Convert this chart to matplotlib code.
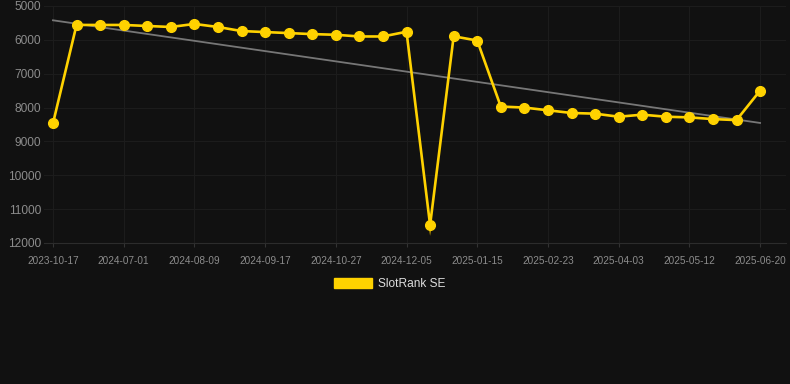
import matplotlib
matplotlib.use('Agg')
import matplotlib.pyplot as plt
import matplotlib.patches as patches
import numpy as np

# ============================================================
# SlotRank SE history (rank, lower is better -> inverted axis)
# ============================================================

dates = ['2023-10-17', '', '', '2024-07-01', '', '', '2024-08-09', '', '',
         '2024-09-17', '', '', '2024-10-27', '', '', '2024-12-05', '', '',
         '2025-01-15', '', '', '2025-02-23', '', '', '2025-04-03', '', '',
         '2025-05-12', '', '', '2025-06-20']
rank = [8470, 5560, 5560, 5560, 5590, 5620, 5530, 5620, 5740, 5770,
        5800, 5830, 5850, 5900, 5900, 5760, 11470, 5895, 6020, 7970,
        8000, 8080, 8160, 8180, 8270, 8210, 8270, 8290, 8340, 8370, 7500]
y_ticks = [5000, 6000, 7000, 8000, 9000, 10000, 11000, 12000]
series_name = 'SlotRank SE'

# Colors
bg = '#111111'
gold = '#FFD200'
trend_col = '#777777'
grid_col = '#1c1c1c'
tick_col = '#8c8c8c'

plt.rcParams['font.family'] = ['Liberation Sans', 'DejaVu Sans']

W, H = 790, 384
fig = plt.figure(figsize=(W / 100, H / 100), dpi=100, facecolor=bg)
ax = fig.add_axes([44 / W, (H - 243) / H, (786 - 44) / W, (243 - 6) / H])
ax.set_facecolor(bg)

x = np.arange(len(rank))
lw = 1.9

# trend line (least squares)
k, b = np.polyfit(x, rank, 1)
ax.plot([x[0], x[-1]], [k * x[0] + b, k * x[-1] + b], color=trend_col,
        linewidth=1.3, zorder=2)

# main series
ax.plot(x, rank, color=gold, linewidth=lw, marker='o', markersize=7,
        markerfacecolor=gold, markeredgecolor=gold, solid_joinstyle='miter',
        zorder=3)

ax.set_ylim(y_ticks[-1], y_ticks[0])
ax.set_xlim(-0.38, 31.1)
ax.set_yticks(y_ticks)
ax.set_yticklabels([str(v) for v in y_ticks])
tick_idx = [i for i, d in enumerate(dates) if d]
ax.set_xticks(tick_idx)
ax.set_xticklabels([dates[i] for i in tick_idx])

ax.grid(True, color=grid_col, linewidth=0.8)
ax.set_axisbelow(True)
for s in ['top', 'right', 'left']:
    ax.spines[s].set_visible(False)
ax.spines['bottom'].set_color('#2c2c2c')
ax.spines['bottom'].set_linewidth(0.8)

ax.tick_params(axis='y', length=0, pad=2, labelsize=8.6, labelcolor=tick_col)
ax.tick_params(axis='x', length=3, width=0.8, color='#333333', pad=6,
               labelsize=7.2, labelcolor=tick_col)

# sharp miter tip at the deepest point (agg bevels it by default)
i = int(np.argmax(rank))
if 0 < i < len(rank) - 1:
    pts = ax.transData.transform(np.column_stack([x[i - 1:i + 2], rank[i - 1:i + 2]]))
    p0, p1, p2 = pts
    u1 = (p0 - p1) / np.linalg.norm(p0 - p1)
    u2 = (p2 - p1) / np.linalg.norm(p2 - p1)
    bis = -(u1 + u2) / np.linalg.norm(u1 + u2)
    half = np.arccos(np.clip(np.dot(u1, u2), -1, 1)) / 2
    hw = lw * fig.dpi / 72 / 2
    tip = p1 + bis * min(hw / np.sin(half), 10 * hw)
    n1 = np.array([-u1[1], u1[0]])
    n2 = np.array([-u2[1], u2[0]])
    if np.dot(n1, bis) < 0:
        n1 = -n1
    if np.dot(n2, bis) < 0:
        n2 = -n2
    tri = patches.Polygon([p1 + n1 * hw, tip, p1 + n2 * hw, p1],
                          closed=True, facecolor=gold, edgecolor='none',
                          transform=None, zorder=3)
    ax.add_patch(tri)

# legend
handle = patches.Patch(facecolor=gold, edgecolor=gold, label=series_name)
leg = fig.legend(handles=[handle], loc='center',
                 bbox_to_anchor=(389.5 / W, 1 - 284 / H), frameon=False,
                 fontsize=8.6, handlelength=3.2, handleheight=1.0,
                 handletextpad=0.5)
for t in leg.get_texts():
    t.set_color('#dddddd')

fig.savefig('out.png', dpi=100, facecolor=bg)
plt.close(fig)
